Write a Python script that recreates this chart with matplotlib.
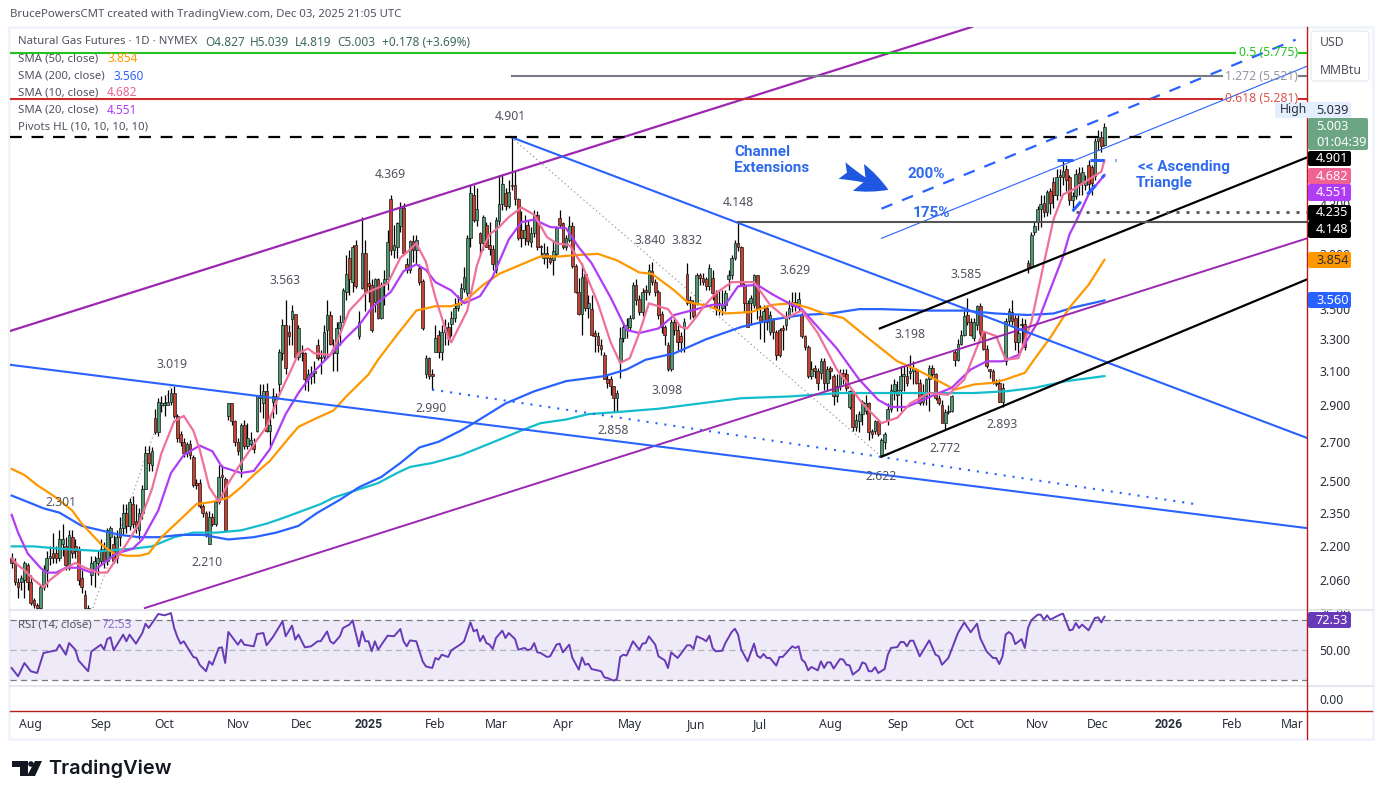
"""Natural gas futures daily chart with SMAs, channels and RSI."""
import matplotlib
matplotlib.use("Agg")
import matplotlib.pyplot as plt
import numpy as np
from matplotlib.lines import Line2D
from matplotlib.patches import FancyBboxPatch, Polygon, Circle, Rectangle
from matplotlib.ticker import NullLocator, FuncFormatter
from matplotlib.transforms import Affine2D

# daily candles
opens = [
    2.15,2.13,2.05,2.05,2.06,2.12,2.05,1.98,1.96,1.95,
    2.03,2.10,2.15,2.17,2.17,2.15,2.21,2.20,2.12,2.24,
    2.20,2.19,2.07,2.00,1.95,2.08,2.10,2.13,2.14,2.19,
    2.14,2.24,2.21,2.15,2.24,2.28,2.35,2.29,2.39,2.31,
    2.27,2.35,2.46,2.64,2.58,2.83,2.75,2.90,2.90,2.90,
    2.92,2.97,2.84,2.74,2.70,2.64,2.69,2.62,2.49,2.49,
    2.38,2.35,2.21,2.33,2.30,2.40,2.53,2.51,2.84,2.91,
    2.81,2.70,2.56,2.79,2.68,2.69,2.69,2.76,2.94,2.91,
    2.98,2.76,2.92,2.95,3.02,3.21,3.39,3.35,3.43,3.47,
    3.19,3.22,3.21,3.05,3.07,3.09,3.26,3.19,3.19,3.36,
    3.46,3.21,3.21,3.37,3.41,3.62,3.87,3.69,3.97,3.32,
    3.65,3.91,3.68,3.67,3.55,3.71,3.44,3.68,3.71,4.34,
    3.93,3.95,4.12,4.27,3.82,3.78,4.00,3.93,3.79,3.70,
    3.08,3.18,3.08,3.22,3.33,3.22,3.35,3.38,3.40,3.44,
    3.51,3.58,3.64,3.61,4.02,4.38,4.17,4.06,3.98,4.13,
    3.97,3.94,3.78,4.16,4.30,4.39,4.28,4.46,4.46,4.34,
    4.09,4.02,4.13,3.99,4.06,4.21,3.96,3.87,3.91,3.87,
    3.85,3.90,4.18,4.14,3.95,4.01,4.12,3.81,3.62,3.47,
    3.75,3.51,3.50,3.34,3.32,3.26,3.20,3.05,3.05,3.01,
    2.94,3.16,3.31,3.36,3.38,3.44,3.67,3.57,3.48,3.63,
    3.62,3.77,3.69,3.62,3.47,3.38,3.26,3.11,3.41,3.36,
    3.32,3.37,3.75,3.56,3.54,3.54,3.74,3.72,3.71,3.66,
    3.72,3.61,3.54,3.51,3.53,3.71,3.74,3.87,3.98,3.95,
    3.67,3.54,3.54,3.53,3.74,3.45,3.42,3.51,3.35,3.43,
    3.35,3.36,3.37,3.39,3.45,3.52,3.55,3.52,3.47,3.32,
    3.25,3.07,3.12,3.10,3.09,3.16,3.03,3.12,3.07,2.95,
    3.01,3.09,3.08,2.89,2.98,2.78,2.81,2.85,2.87,2.91,
    2.76,2.76,2.81,2.63,2.70,2.82,2.88,2.98,2.96,2.99,
    3.07,3.07,3.09,3.10,3.11,3.03,2.92,2.95,3.05,3.12,
    3.08,2.94,2.90,2.80,2.86,2.87,3.22,3.17,3.27,3.33,
    3.46,3.41,3.31,3.39,3.52,3.34,3.24,3.11,3.10,3.03,
    3.03,2.92,3.16,3.42,3.48,3.44,3.28,3.40,3.40,3.83,
    3.80,4.07,4.15,4.26,4.31,4.23,4.41,4.49,4.38,4.55,
    4.53,4.60,4.53,4.33,4.37,4.57,4.48,4.46,4.64,4.62,
    4.54,4.86,4.90,4.827,
]
closes = [
    2.13,2.05,2.03,2.07,2.13,2.05,1.97,1.96,1.95,2.03,
    2.10,2.15,2.16,2.15,2.15,2.23,2.23,2.12,2.25,2.17,
    2.18,2.06,2.03,1.95,1.94,2.13,2.14,2.15,2.19,2.14,
    2.27,2.28,2.14,2.24,2.28,2.35,2.29,2.40,2.30,2.28,
    2.35,2.46,2.64,2.59,2.65,2.75,2.92,2.91,2.91,2.92,
    2.97,2.84,2.72,2.70,2.64,2.69,2.63,2.48,2.48,2.38,
    2.35,2.25,2.33,2.30,2.40,2.52,2.52,2.27,2.91,2.81,
    2.70,2.65,2.79,2.68,2.72,2.71,2.66,2.95,2.96,2.98,
    2.76,2.79,2.95,2.93,3.22,3.39,3.12,3.32,3.49,3.19,
    3.37,3.21,3.05,3.08,3.09,3.10,3.18,3.18,3.35,3.46,
    3.27,3.22,3.37,3.41,3.63,3.75,3.71,3.95,3.66,3.41,
    3.91,3.62,3.66,3.36,3.71,3.44,3.67,3.71,3.99,3.93,
    3.97,4.14,4.27,3.91,3.78,4.00,3.93,4.01,3.69,3.37,
    3.18,3.07,3.07,3.31,3.22,3.35,3.38,3.31,3.44,3.51,
    3.54,3.65,3.73,4.02,4.39,4.17,4.26,3.98,4.19,3.95,
    3.94,3.82,4.17,4.30,4.47,4.28,4.40,4.45,4.34,4.02,
    4.02,4.09,4.00,4.06,4.21,3.95,3.95,3.91,3.87,3.84,
    3.92,4.10,4.13,3.95,4.02,4.12,3.81,3.62,3.47,3.73,
    3.51,3.54,3.33,3.32,3.26,3.24,3.05,3.03,3.01,2.94,
    2.97,3.31,3.38,3.39,3.44,3.67,3.56,3.48,3.62,3.62,
    3.78,3.69,3.62,3.46,3.38,3.33,3.11,3.41,3.36,3.28,
    3.28,3.41,3.54,3.54,3.45,3.74,3.72,3.69,3.66,3.79,
    3.61,3.51,3.53,3.53,3.61,3.74,3.87,3.98,3.95,3.67,
    3.54,3.38,3.58,3.74,3.51,3.42,3.49,3.41,3.46,3.35,
    3.20,3.20,3.36,3.45,3.51,3.55,3.52,3.57,3.32,3.25,
    3.07,3.11,3.10,3.03,3.16,3.03,3.11,3.10,2.95,3.01,
    3.09,3.07,3.00,2.98,2.78,2.82,2.85,2.92,2.91,2.75,
    2.74,2.81,2.74,2.71,2.74,2.88,2.99,3.02,2.99,3.07,
    3.08,3.03,3.10,3.12,3.03,2.91,2.97,3.05,3.12,3.08,
    2.94,2.91,2.80,2.86,2.87,2.95,3.17,3.27,3.33,3.45,
    3.41,3.33,3.41,3.52,3.34,3.24,3.13,3.10,3.03,3.02,
    2.92,3.00,3.42,3.49,3.42,3.28,3.34,3.39,3.25,3.80,
    4.05,4.12,4.26,4.30,4.23,4.40,4.31,4.38,4.53,4.53,
    4.59,4.51,4.33,4.37,4.56,4.48,4.58,4.50,4.47,4.48,
    4.86,4.90,4.82,5.003,
]
highs = [
    2.17,2.15,2.07,2.08,2.14,2.13,2.08,1.99,1.97,2.04,
    2.12,2.18,2.20,2.26,2.20,2.27,2.30,2.24,2.27,2.27,
    2.23,2.20,2.10,2.02,1.96,2.16,2.16,2.18,2.23,2.22,
    2.28,2.29,2.25,2.27,2.33,2.39,2.39,2.42,2.43,2.39,
    2.37,2.48,2.68,2.68,2.67,2.88,2.94,2.95,2.96,2.99,
    3.00,3.01,2.85,2.76,2.72,2.70,2.71,2.63,2.51,2.51,
    2.39,2.36,2.36,2.35,2.41,2.58,2.58,2.52,2.91,2.91,
    2.82,2.72,2.80,2.82,2.80,2.75,2.72,2.96,3.02,3.02,
    3.03,2.85,3.00,2.97,3.24,3.43,3.56,3.39,3.53,3.47,
    3.39,3.26,3.22,3.11,3.13,3.16,3.30,3.23,3.39,3.56,
    3.49,3.30,3.41,3.46,3.65,3.89,3.93,3.97,4.01,3.49,
    4.19,4.01,3.78,3.71,3.72,3.72,3.69,3.78,4.09,4.38,
    4.13,4.15,4.32,4.31,3.87,4.01,4.05,4.05,3.82,3.71,
    3.20,3.19,3.11,3.39,3.36,3.39,3.43,3.41,3.49,3.58,
    3.60,3.68,3.80,4.05,4.46,4.46,4.44,4.07,4.21,4.15,
    4.15,3.97,4.19,4.55,4.55,4.44,4.51,4.90,4.59,4.35,
    4.24,4.21,4.17,4.11,4.25,4.24,3.97,3.98,3.96,3.89,
    4.01,4.12,4.25,4.15,4.05,4.20,4.15,3.82,3.72,3.83,
    3.76,3.60,3.60,3.36,3.35,3.30,3.22,3.08,3.07,3.01,
    2.99,3.38,3.41,3.44,3.46,3.69,3.71,3.60,3.65,3.67,
    3.82,3.84,3.71,3.63,3.49,3.39,3.28,3.43,3.44,3.39,
    3.35,3.44,3.83,3.59,3.56,3.76,3.76,3.76,3.73,3.82,
    3.78,3.63,3.63,3.63,3.63,3.78,3.89,4.01,4.15,3.96,
    3.68,3.56,3.60,3.75,3.74,3.53,3.53,3.53,3.49,3.44,
    3.36,3.37,3.39,3.49,3.56,3.62,3.62,3.62,3.48,3.33,
    3.26,3.16,3.14,3.12,3.18,3.18,3.13,3.13,3.08,3.08,
    3.11,3.11,3.11,2.99,2.99,2.85,2.87,2.93,2.96,2.92,
    2.77,2.82,2.82,2.72,2.75,2.91,3.02,3.05,3.04,3.13,
    3.13,3.13,3.20,3.16,3.12,3.05,3.02,3.06,3.14,3.14,
    3.09,2.96,2.93,2.88,2.90,2.96,3.24,3.30,3.36,3.49,
    3.58,3.44,3.44,3.53,3.54,3.35,3.26,3.11,3.11,3.05,
    3.05,3.03,3.44,3.51,3.56,3.46,3.46,3.44,3.43,3.85,
    4.07,4.15,4.28,4.38,4.38,4.42,4.44,4.53,4.60,4.60,
    4.69,4.64,4.55,4.40,4.60,4.62,4.62,4.55,4.69,4.64,
    4.89,4.97,4.96,5.039,
]
lows = [
    2.11,2.04,1.99,2.02,1.99,2.02,1.96,1.95,1.94,1.94,
    2.02,2.03,2.12,2.13,2.13,2.14,2.16,2.10,2.10,2.15,
    2.15,2.04,2.01,1.94,1.93,2.04,2.03,2.08,2.12,2.11,
    2.12,2.16,2.13,2.13,2.20,2.25,2.26,2.27,2.28,2.26,
    2.23,2.32,2.46,2.55,2.55,2.74,2.73,2.86,2.84,2.90,
    2.90,2.83,2.70,2.68,2.62,2.62,2.61,2.47,2.46,2.37,
    2.33,2.24,2.21,2.29,2.29,2.39,2.42,2.27,2.82,2.79,
    2.68,2.63,2.52,2.66,2.66,2.67,2.64,2.75,2.86,2.83,
    2.75,2.68,2.83,2.85,2.96,3.17,3.08,3.26,3.26,3.18,
    3.17,3.16,2.99,2.98,3.02,3.03,3.17,3.08,3.16,3.18,
    3.26,3.10,3.10,3.26,3.39,3.56,3.60,3.62,3.65,3.30,
    3.64,3.49,3.55,3.35,3.48,3.43,3.43,3.53,3.63,3.89,
    3.87,3.87,4.07,3.90,3.76,3.76,3.84,3.82,3.67,3.36,
    3.06,3.05,2.99,3.22,3.18,3.17,3.26,3.26,3.32,3.41,
    3.49,3.53,3.62,3.59,3.95,4.15,4.12,3.90,3.93,3.95,
    3.89,3.78,3.76,4.13,4.25,4.25,4.27,4.42,4.29,4.01,
    3.95,3.97,3.97,3.95,4.03,3.93,3.89,3.82,3.79,3.82,
    3.74,3.88,4.11,3.94,3.93,3.99,3.79,3.61,3.46,3.33,
    3.49,3.44,3.32,3.22,3.22,3.20,3.05,3.00,2.96,2.86,
    2.86,3.06,3.28,3.31,3.36,3.43,3.53,3.46,3.45,3.56,
    3.60,3.67,3.59,3.43,3.34,3.26,3.10,3.10,3.33,3.23,
    3.22,3.22,3.53,3.43,3.44,3.53,3.67,3.67,3.63,3.63,
    3.56,3.46,3.46,3.46,3.49,3.63,3.71,3.85,3.92,3.66,
    3.49,3.38,3.39,3.51,3.43,3.30,3.28,3.36,3.33,3.30,
    3.17,3.19,3.23,3.36,3.43,3.48,3.49,3.49,3.31,3.23,
    3.06,3.05,3.06,2.99,3.05,2.99,2.98,3.05,2.90,2.92,
    2.99,3.02,2.98,2.88,2.76,2.76,2.75,2.79,2.85,2.71,
    2.72,2.74,2.73,2.62,2.66,2.79,2.86,2.93,2.87,2.87,
    2.98,3.01,3.05,3.02,3.02,2.90,2.90,2.90,2.87,3.06,
    2.93,2.90,2.80,2.77,2.85,2.86,3.13,3.16,3.26,3.32,
    3.39,3.32,3.29,3.36,3.32,3.23,3.12,3.06,3.02,3.01,
    2.92,2.89,3.14,3.39,3.39,3.23,3.20,3.26,3.23,3.76,
    3.79,4.05,4.09,4.11,4.19,4.20,4.22,4.27,4.33,4.37,
    4.46,4.41,4.29,4.24,4.34,4.38,4.38,4.42,4.41,4.38,
    4.51,4.78,4.76,4.819,
]

# moving averages, sampled along each line
sma50_bars = [0,4,8,14,19,22,28,32,36,40,43,47,53,58,63,68,72,76,81,86,90,96,101,105,112,115,121,127,133,138,141,144,148,153,160,166,172,177,184,190,197,201,208,212,219,224,232,239,245,250,255,261,268,278,284,290,296,302,308,312,318,322,326,332,338,343]
sma50_vals = [2.56,2.53,2.48,2.42,2.36,2.30,2.21,2.17,2.16,2.16,2.17,2.24,2.32,2.39,2.40,2.42,2.47,2.53,2.60,2.70,2.78,2.83,2.87,2.95,3.08,3.17,3.33,3.49,3.52,3.52,3.54,3.59,3.67,3.75,3.82,3.88,3.88,3.89,3.90,3.85,3.76,3.75,3.63,3.55,3.52,3.47,3.48,3.53,3.54,3.51,3.47,3.44,3.32,3.16,3.11,3.05,2.99,3.02,3.03,3.05,3.09,3.20,3.31,3.51,3.67,3.854]
sma200_bars = [0,5,10,15,22,28,34,40,46,53,60,68,76,83,90,96,103,109,116,122,128,134,141,145,155,164,174,186,193,199,208,218,229,239,248,257,266,273,287,299,309,319,327,333,343]
sma200_vals = [2.43,2.40,2.37,2.35,2.29,2.27,2.25,2.24,2.24,2.25,2.25,2.23,2.24,2.26,2.29,2.35,2.41,2.47,2.52,2.59,2.67,2.70,2.76,2.80,2.91,2.98,3.04,3.07,3.11,3.17,3.21,3.30,3.38,3.43,3.46,3.47,3.50,3.50,3.49,3.49,3.47,3.46,3.47,3.51,3.56]
sma_long_bars = [0,7,15,28,38,44,51,57,64,72,80,86,97,101,107,115,121,125,132,141,150,160,166,174,181,189,203,216,229,244,260,281,291,302,312,321,331,343]
sma_long_vals = [2.20,2.20,2.19,2.18,2.19,2.20,2.24,2.26,2.26,2.27,2.30,2.33,2.39,2.42,2.45,2.49,2.54,2.57,2.59,2.63,2.69,2.76,2.80,2.82,2.85,2.86,2.88,2.91,2.94,2.95,2.97,2.97,2.97,2.97,2.98,3.00,3.04,3.07]
sma20_bars = [0,2,5,9,11,14,17,21,25,29,33,38,41,46,50,54,59,63,66,72,76,81,86,90,95,101,105,109,113,119,123,127,130,133,138,142,147,151,156,160,164,169,174,178,182,188,193,197,203,208,215,220,224,228,234,239,244,248,253,259,266,272,276,281,286,291,295,301,306,311,316,322,325,330,332,334,338,343]
sma20_vals = [2.34,2.26,2.17,2.11,2.09,2.09,2.11,2.11,2.09,2.13,2.17,2.19,2.23,2.36,2.54,2.63,2.68,2.65,2.57,2.54,2.55,2.66,2.85,2.97,3.10,3.22,3.31,3.39,3.51,3.62,3.77,3.82,3.78,3.69,3.63,3.54,3.59,3.73,4.01,4.15,4.17,4.11,4.10,3.95,3.83,3.58,3.36,3.34,3.37,3.46,3.50,3.53,3.53,3.66,3.67,3.60,3.54,3.50,3.38,3.24,3.05,2.93,2.89,2.89,2.93,2.97,3.00,3.11,3.16,3.16,3.20,3.41,3.58,3.88,4.05,4.15,4.38,4.551]
sma10_bars = [0,2,4,7,10,12,16,20,23,27,30,33,36,40,44,47,51,54,57,59,62,65,68,72,77,80,84,88,90,93,95,100,102,106,109,111,118,122,124,127,130,133,137,138,143,146,148,150,153,156,160,164,168,171,175,179,184,188,191,194,197,200,206,210,212,215,217,221,226,233,238,243,248,253,259,263,267,273,278,282,288,294,299,303,305,309,312,316,320,324,327,330,333,338,342,343]
sma10_vals = [2.15,2.12,2.10,2.06,2.03,2.06,2.10,2.13,2.11,2.09,2.09,2.15,2.21,2.30,2.46,2.64,2.81,2.84,2.76,2.66,2.47,2.40,2.49,2.59,2.71,2.78,2.96,3.12,3.21,3.24,3.21,3.20,3.28,3.49,3.56,3.61,3.68,3.87,3.91,3.98,3.84,3.58,3.31,3.28,3.49,3.81,3.95,4.05,4.11,4.19,4.27,4.21,4.03,3.98,3.97,3.82,3.54,3.28,3.15,3.18,3.34,3.54,3.50,3.38,3.37,3.45,3.51,3.61,3.69,3.69,3.53,3.44,3.49,3.34,3.11,3.01,2.91,2.80,2.83,2.91,2.97,2.96,3.05,3.25,3.35,3.32,3.17,3.18,3.41,3.83,4.17,4.38,4.42,4.51,4.58,4.682]

# rsi pane
rsi_bars = [0,2,4,6,8,10,14,15,17,18,20,21,24,25,28,29,30,31,32,35,36,37,39,41,42,43,46,48,50,51,52,53,54,57,58,59,61,62,63,65,66,67,68,71,72,73,76,77,79,80,82,85,86,88,89,90,92,94,96,97,99,100,101,103,104,106,107,109,110,111,112,113,114,115,118,120,122,123,124,125,127,129,130,132,133,134,135,137,138,141,142,144,145,146,147,148,149,150,151,152,154,155,156,158,159,161,162,163,164,165,166,168,169,171,172,173,175,176,178,179,180,181,182,185,186,187,189,190,191,192,193,195,197,198,199,200,202,203,205,206,207,209,210,212,213,214,215,217,218,219,220,221,223,224,226,227,228,229,231,233,234,235,236,237,238,240,241,242,245,246,247,248,249,250,251,253,254,255,256,257,258,260,261,262,263,264,266,267,268,269,270,271,272,274,275,276,278,279,280,281,282,283,285,288,290,291,292,294,295,297,299,301,303,304,306,308,309,310,311,312,313,314,315,317,318,319,320,322,323,324,325,326,327,329,330,332,333,334,335,336,338,340,341,342,343]
rsi_vals = [37.8,32.2,41.2,35.6,34.4,48,49.8,53.6,46.8,54.7,50.2,42.8,35.6,49,53.6,50.2,57.4,58.6,49.8,60.4,55.9,60.4,54.3,61.5,67.8,64.9,74.4,73.5,75,64.9,58.8,54.3,55.9,45.3,44.6,40,35.6,42.3,40,51.4,51.8,41.2,62.2,53.6,57,53.6,52.5,60.8,61.5,53.2,58.8,69.4,59.3,66.5,57,60.4,51.8,52.5,55.9,55.9,62.6,55.9,54.3,59.3,64.9,67.2,70.1,52.5,62.6,55.9,55.9,49.1,55.9,50.2,59.7,59.3,64.2,55.9,52.5,56.5,55.9,42.3,38.9,37.8,44.6,43.5,46.8,45.3,49.8,54,55.9,68.7,62.6,63.8,55.9,59.7,54.7,53.6,50.7,58.1,63.1,58.1,61.5,57.4,50.2,51.4,49.8,50.7,54.7,48.4,48,45.3,45.7,53.6,54.3,48.4,53.6,44.6,36.7,45,40,40.7,37.1,35.6,31.5,31,29.2,30.4,45.3,46.8,46.2,55.9,50.2,54.3,54.7,59.3,53.6,45.7,43,37.8,48.4,44.6,47.3,53.2,53.2,50.7,59.3,57.4,55.9,59.7,51.4,49.1,49.5,54.7,62.2,64.4,60.4,50.2,42.3,54.3,46.2,44.6,47.3,44.6,44.6,39.4,45.3,45.3,52.5,51.4,52.5,43.5,41.6,36.2,38.5,36.2,42.3,37.8,41.6,41.6,37.4,43.9,43.5,40,39.6,33.3,36.7,41.6,40.7,35.6,35.6,38.3,34.4,37.1,46.8,51.4,52,55.4,55.4,52.5,56.3,56.3,45.7,56.5,46.8,45.7,40,44.6,50.2,61.5,68.7,62,67.8,58.1,49.1,44.6,44.6,40.5,45.7,60.4,62.2,60.4,54,57.4,51.4,64.9,70.1,73.9,73.9,70.5,73.5,70.5,71.7,73.9,74.6,63.3,63.8,68.3,64.9,67.2,63.3,71.7,72.1,68.7,72.53]

# drawn trend lines: start bar, end bar, start price, end price
purple_upper = [-1, 301.4, 3.35, 6.08]
purple_lower = [41.8, 406.6, 1.95, 4.02]
blue_lower = [-1, 406.6, 3.14, 2.28]
blue_upper = [156.7, 406.6, 4.901, 2.72]
blue_dotted = [132, 371.4, 2.99, 2.39]
grey_down = [156.7, 273, 4.901, 2.622]
grey_up = [25.5, 50, 1.95, 3.019]
black_upper = [272.5, 406.6, 3.37, 4.71]
black_lower = [273, 406.6, 2.622, 3.71]
dash_200 = [273, 403, 4.26, 5.93]
thin_175 = [273, 406.6, 4.02, 5.63]
tri_lower = [333, 343, 4.24, 4.55]
tri_top = [[328, 333], [338.5, 343], [346.2, 346.5]]

# horizontal levels
level_peak = 4.901
level_pivot = 4.148
level_triangle = 4.235
fib_green = 5.775
fib_grey = 5.521
fib_red = 5.281

month_bars = [6,28,48,71,91,112,133,152,173,194,215,235,257,278,299,322,341,363,383,402]
month_labels = ["Aug","Sep","Oct","Nov","Dec","2025","Feb","Mar","Apr","May","Jun","Jul","Aug","Sep","Oct","Nov","Dec","2026","Feb","Mar"]
price_ticks = [2.06,2.2,2.35,2.5,2.7,2.9,3.1,3.3,3.5,3.9,4.3]

W, H = 1383, 799
FONT = "Noto Sans"
BOLD = "Roboto"
TEXT = "#2a2e39"
GREY = "#50535e"
BLUE = "#2962ff"
PURPLE = "#9c27b0"

plt.rcParams["font.family"] = [FONT, "DejaVu Sans"]
plt.rcParams["lines.scale_dashes"] = False
fig = plt.figure(figsize=(W / 100, H / 100), dpi=100, facecolor="white")
# pixel coordinates for the page furniture
px = Affine2D().scale(1 / W, -1 / H).translate(0, 1) + fig.transFigure


def txt(x, y, s, **kw):
    kw.setdefault("va", "center")
    kw.setdefault("fontsize", 8.8)
    kw.setdefault("color", TEXT)
    kw.setdefault("zorder", 8)
    return fig.text(x, y, s, transform=px, **kw)


def tag(x0, x1, y0, y1, s, fc, color="white", **kw):
    fig.add_artist(FancyBboxPatch((x0, y0), x1 - x0, y1 - y0, boxstyle="round,pad=0,rounding_size=2",
                                  fc=fc, ec="none", transform=px, zorder=6))
    txt(x0 + 8, (y0 + y1) / 2, s, color=color, fontsize=9.2, zorder=7, **kw)


def rule(x0, x1, y0, y1, color, lw=1.0):
    fig.add_artist(Line2D([x0, x1], [y0, y1], color=color, lw=lw, transform=px, zorder=5))


def pane(top, bottom):
    return fig.add_axes([10 / W, 1 - bottom / H, 1297 / W, (bottom - top) / H], facecolor="none")


# frame around the chart
fig.add_artist(Rectangle((9, 27), 1364, 712, fc="none", ec="#f0f3fa", lw=2, transform=px, zorder=0))

ax = pane(27, 610)
ax.set_yscale("log")
ax.set_xlim(-0.53, 406.57)
ax.set_ylim(1.9425, 6.079)

bars = np.arange(len(closes))
o = np.array(opens)
c = np.array(closes)
up = c >= o

ax.vlines(bars, lows, highs, color="black", lw=0.9, zorder=3)
ax.bar(bars, np.abs(c - o), bottom=np.minimum(o, c), width=0.85,
       color=np.where(up, "#4f9a72", "#c8402f"), edgecolor="#1a1a1a", lw=0.5, zorder=4)

# moving averages
ax.plot(sma_long_bars, sma_long_vals, color="#12bdcc", lw=1.6, zorder=5)
ax.plot(sma200_bars, sma200_vals, color=BLUE, lw=1.6, zorder=5)
ax.plot(sma50_bars, sma50_vals, color="#ff9800", lw=1.6, zorder=5)
ax.plot(sma20_bars, sma20_vals, color="#b13cf5", lw=1.6, zorder=5)
ax.plot(sma10_bars, sma10_vals, color="#f0709c", lw=1.6, zorder=5)


def trend(points, **kw):
    ax.plot(points[:2], points[2:], **kw)


trend(purple_upper, color=PURPLE, lw=1.6, zorder=6)
trend(purple_lower, color=PURPLE, lw=1.4, zorder=6)
trend(blue_lower, color=BLUE, lw=1.5, zorder=6)
trend(blue_upper, color=BLUE, lw=1.5, zorder=6)
trend(blue_dotted, color=BLUE, lw=1.5, dashes=(1.5, 5), zorder=6)
trend(grey_down, color="#9598a1", lw=0.8, dashes=(1, 2), zorder=2)
trend(grey_up, color="#9598a1", lw=0.8, dashes=(1, 2), zorder=2)
trend(black_upper, color="black", lw=1.6, zorder=6)
trend(black_lower, color="black", lw=1.6, zorder=6)
trend(dash_200, color=BLUE, lw=1.6, dashes=(8.5, 7.5), zorder=6)
trend(thin_175, color=BLUE, lw=0.8, zorder=6)
trend(tri_lower, color=BLUE, lw=2.2, dashes=(9, 7), zorder=7)
for seg in tri_top:
    ax.plot(seg, [4.69, 4.69], color=BLUE, lw=2.2, zorder=7, solid_capstyle="butt")

# levels and fib lines
ax.plot([-0.53, 403], [level_peak] * 2, color="black", lw=1.6, dashes=(8.5, 7), zorder=6)
ax.plot([228, 406.6], [level_pivot] * 2, color="#555555", lw=1.5, zorder=6)
ax.plot([334, 406.6], [level_triangle] * 2, color="#555555", lw=2, dashes=(2.2, 5), zorder=6)
for start, end, level, col in [(-0.53, 384, fib_green, "#22c322"), (157, 380, fib_grey, "#787b86"),
                               (-0.53, 380, fib_red, "#cc2b2b")]:
    ax.plot([start, end], [level, level], color=col, lw=1.5, zorder=6)
    ax.plot([404.2, 406.6], [level, level], color=col, lw=1.5, zorder=6)

ax.annotate("", xy=(275.2, 4.42), xytext=(260.6, 4.59), zorder=8,
            arrowprops=dict(arrowstyle="fancy,head_length=0.9,head_width=0.8,tail_width=0.5",
                            color="#1f57e0", lw=0, shrinkA=0, shrinkB=0, mutation_scale=26))

ax.set_yticks(price_ticks)
ax.yaxis.set_minor_locator(NullLocator())
ax.yaxis.set_major_formatter(FuncFormatter(lambda v, _: f"{v:.3f}"))
ax.yaxis.tick_right()
ax.tick_params(axis="y", length=0, pad=9, labelsize=8.8, labelcolor=TEXT)
ax.set_xticks([])
for s in ax.spines.values():
    s.set_visible(False)

# rsi pane
ax_rsi = pane(610, 686)
ax_rsi.set_xlim(ax.get_xlim())
ax_rsi.set_ylim(25.6, 77.1)
ax_rsi.axhspan(30, 70, color="#673ab7", alpha=0.1, lw=0)
for lev, col in [(70, "#787b86"), (50, "#b2b5be"), (30, "#787b86")]:
    ax_rsi.axhline(lev, color=col, lw=0.9, dashes=(4.5, 3))
ax_rsi.plot(rsi_bars, rsi_vals, color="#673ab7", lw=1.4)
ax_rsi.set_yticks([75, 50], ["75.00", "50.00"])
ax_rsi.yaxis.tick_right()
ax_rsi.tick_params(axis="y", length=0, pad=9, labelsize=8.8, labelcolor=TEXT)
ax_rsi.set_xticks([])
for s in ax_rsi.spines.values():
    s.set_visible(False)

# empty pane above the time scale
ax_low = pane(686, 711)
ax_low.set_xlim(ax.get_xlim())
ax_low.set_ylim(-1, 1)
ax_low.set_yticks([0], ["0.00"])
ax_low.yaxis.tick_right()
ax_low.tick_params(axis="y", length=0, pad=9, labelsize=8.8, labelcolor=TEXT)
ax_low.set_xticks(month_bars, month_labels)
ax_low.tick_params(axis="x", length=0, pad=5, labelsize=8.8, labelcolor=TEXT)
for lab in ax_low.get_xticklabels():
    if lab.get_text() in ("2025", "2026"):
        lab.set_family(BOLD)
        lab.set_fontweight("bold")
for s in ax_low.spines.values():
    s.set_visible(False)

# separators and the red scale lines
rule(10, 1372, 610, 610, "#e0e3eb", 1.2)
rule(10, 1372, 686, 686, "#e0e3eb", 1.2)
rule(10, 1372, 711, 711, "#b71c1c", 1.0)
rule(1307, 1307, 27, 739, "#b71c1c", 1.0)

# header and legend
SMALL = 8.2
txt(10, 15, "BrucePowersCMT created with TradingView.com, Dec 03, 2025 21:05 UTC", color=GREY, fontsize=SMALL)
txt(18, 42, "Natural Gas Futures · 1D · NYMEX", color=GREY, fontsize=SMALL)
for x, s in [(205, "O4.827"), (250, "H5.039"), (295, "L4.819"), (337, "C5.003"), (382, "+0.178 (+3.69%)")]:
    txt(x, 42, s, color="#3d6b55", fontsize=SMALL + 0.3)
for y, name, x, val, col in [(59, "SMA (50, close)", 107, "3.854", "#ff9800"),
                             (76, "SMA (200, close)", 113, "3.560", BLUE),
                             (93, "SMA (10, close)", 107, "4.682", "#f06292"),
                             (110, "SMA (20, close)", 107, "4.551", "#b13cf5")]:
    txt(18, y, name, color=GREY, fontsize=SMALL)
    txt(x, y, val, color=col, fontsize=SMALL + 0.3)
txt(18, 127, "Pivots HL (10, 10, 10, 10)", color=GREY, fontsize=SMALL)
txt(18, 625, "RSI (14, close)", color=GREY, fontsize=SMALL)
txt(102, 625, "72.53", color="#8c6fd0", fontsize=SMALL + 0.3)

# pivot labels
for x, y, s in [(510, 117, "4.901"), (390, 174, "4.369"), (285, 280, "3.563"), (172, 364, "3.019"),
                (61, 502, "2.301"), (207, 563, "2.210"), (431, 409, "2.990"), (613, 431, "2.858"),
                (667, 391, "3.098"), (650, 241, "3.840"), (687, 241, "3.832"), (738, 202, "4.148"),
                (795, 270, "3.629"), (966, 275, "3.585"), (910, 334, "3.198"), (945, 448, "2.772"),
                (1002, 425, "2.893"), (881, 476, "2.622")]:
    txt(x, y, s, ha="center", color=GREY)

# fib labels
txt(1298, 53, "0.5 (5.775)", ha="right", color="#22c322")
txt(1298, 76, "1.272 (5.521)", ha="right", color="#9598a1")
txt(1298, 99, "0.618 (5.281)", ha="right", color="#d9534f")

# blue notes
for x, y, s, size in [(734, 152, "Channel", 11), (734, 168, "Extensions", 11), (907, 174, "200%", 11),
                      (913, 213, "175%", 11), (1138, 167, "<< Ascending", 11), (1136, 183, "Triangle", 11)]:
    txt(x, y, s, color="#2f6bec", fontweight="bold", fontsize=size, family=BOLD)

# scale tags
fig.add_artist(FancyBboxPatch((1311, 31), 58, 50, boxstyle="round,pad=0,rounding_size=4", fc="white",
                              ec="#e9ecf2", lw=1, transform=px, zorder=6))
txt(1320, 43, "USD", color=GREY, fontsize=8.8)
txt(1320, 70, "MMBtu", color=GREY, fontsize=8.8)
fig.add_artist(Rectangle((1275, 102), 33, 16, fc="#e3effd", ec="none", transform=px, zorder=6))
txt(1280, 110, "High", zorder=7)
tag(1308, 1351, 102, 118, "5.039", "#e3effd", color=TEXT)
fig.add_artist(FancyBboxPatch((1308, 118), 60, 32, boxstyle="round,pad=0,rounding_size=2", fc="#6ca584",
                              ec="none", transform=px, zorder=6))
txt(1316, 127, "5.003", color="white", fontsize=9.2)
txt(1316, 142, "01:04:39", color="white", fontsize=9.2)
tag(1308, 1351, 151, 166, "4.901", "black")
tag(1308, 1351, 168, 184, "4.682", "#f06292")
tag(1308, 1351, 184, 201, "4.551", "#b13cf5")
tag(1308, 1351, 205, 221, "4.235", "black")
tag(1308, 1351, 221, 238, "4.148", "black")
tag(1308, 1351, 252, 268, "3.854", "#ff9800", color=TEXT)
tag(1308, 1351, 292, 308, "3.560", BLUE)
tag(1308, 1351, 612, 628, "72.53", "#673ab7")

# tradingview mark
logo = "#131722"
fig.add_artist(Polygon([(12, 761), (28, 761), (28, 776), (20, 776), (20, 767), (12, 767)], fc=logo, ec="none", transform=px, zorder=8))
fig.add_artist(Circle((31, 764), 2.8, fc=logo, ec="none", transform=px, zorder=8))
fig.add_artist(Polygon([(35, 761), (42, 761), (35, 776), (27, 776)], fc=logo, ec="none", transform=px, zorder=8))
txt(48, 769, "TradingView", color=logo, fontsize=14.4, fontweight="semibold", family="Inter")

fig.savefig("out.png", dpi=100, facecolor="white")
